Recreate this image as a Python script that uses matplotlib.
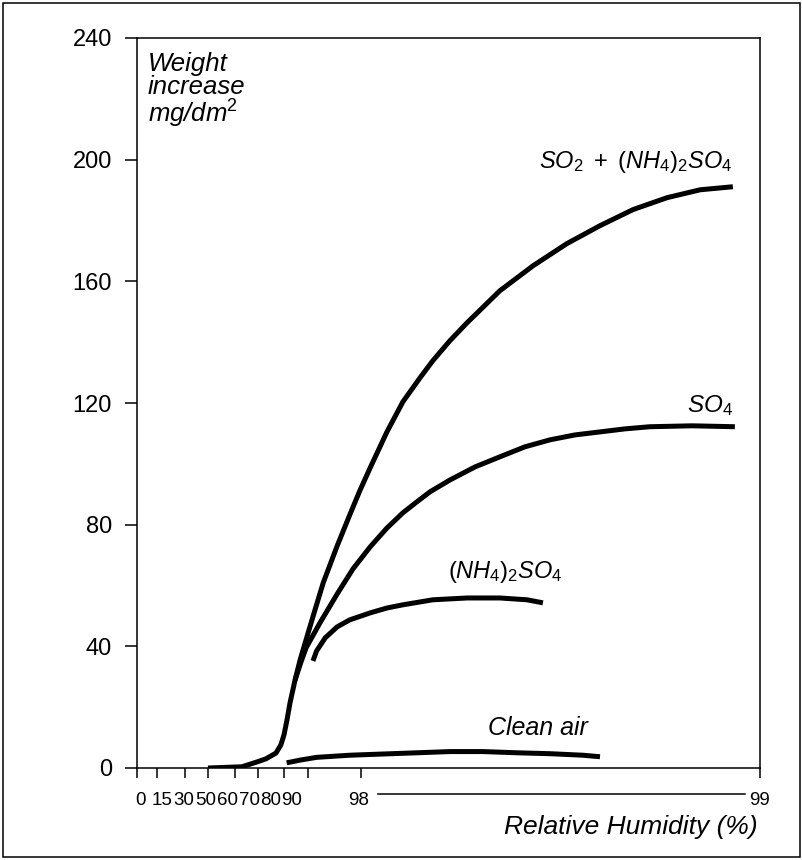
import numpy as np
import matplotlib
matplotlib.use("Agg")
import matplotlib.pyplot as plt
from matplotlib.patches import Rectangle

plt.rcParams["font.family"] = ["Liberation Sans", "DejaVu Sans"]
plt.rcParams["mathtext.fontset"] = "custom"
plt.rcParams["mathtext.rm"] = "Liberation Sans"
plt.rcParams["mathtext.it"] = "Liberation Sans:italic"
plt.rcParams["mathtext.bf"] = "Liberation Sans:bold"

# ---- humidity axis (non-linear, expanded near saturation) ----
RH_TICKS = [0, 15, 30, 50, 60, 70, 80, 90, 98, 99]
RH_TICK_LABELS = ["0", "15", "30", "50", "60", "70", "80", "90", "98", "99"]

# ---- weight-gain curves: relative humidity (%) vs weight increase (mg/dm2) ----
so2_nh4_rh = [50, 63, 69.6, 73, 76.9, 78.8, 80, 81.25, 82.5, 84.6, 86.7, 90.15,
              91.06, 92.3, 94.4, 96.3, 97.81, 98.023, 98.065, 98.105, 98.148,
              98.180, 98.223, 98.266, 98.348, 98.431, 98.516, 98.599, 98.682,
              98.767, 98.850, 98.932]
so2_nh4_w = [0, 0.4, 2.0, 3.0, 4.9, 7.6, 10.9, 15.8, 21.4, 28.9, 35.5, 45.4,
             52.0, 60.9, 73.0, 83.2, 91.1, 98.7, 110.5, 120.4, 128.3,
             133.9, 140.5, 146.4, 156.9, 165.1, 172.4, 178.3, 183.6,
             187.5, 190.1, 191.1]

so4_rh = [84.6, 87.1, 89.2, 91.8, 94.4, 96.8, 98.023, 98.065, 98.105, 98.140,
          98.173, 98.223, 98.286, 98.348, 98.411, 98.474, 98.536, 98.599,
          98.662, 98.724, 98.830, 98.937]
so4_w = [28.9, 34.9, 39.5, 47.7, 57.2, 65.5, 72.7, 78.9, 83.9, 87.5,
         90.8, 94.7, 99.0, 102.3, 105.6, 107.9, 109.5, 110.5,
         111.5, 112.2, 112.5, 112.2]

nh4_rh = [90.75, 91.3, 92.6, 94.4, 96.3, 98.023, 98.065, 98.103, 98.180,
          98.266, 98.348, 98.416, 98.456]
nh4_w = [35.2, 38.5, 42.8, 46.4, 48.7, 51.0, 52.6, 53.6, 55.3,
         55.9, 55.9, 55.3, 54.3]

clean_rh = [81.1, 86.7, 91.3, 96.3, 98.055, 98.140, 98.223, 98.306, 98.391,
            98.474, 98.556, 98.599]
clean_w = [1.7, 2.6, 3.5, 4.2, 4.6, 5.0, 5.4, 5.4, 5.0, 4.7, 4.2, 3.7]

Y_TICKS = [0, 40, 80, 120, 160, 200, 240]

# relative drawing positions of the humidity ticks along the x axis
AXIS_POS = [0, 20, 48, 71, 98, 121, 147, 171, 224, 623]
# small horizontal shifts (pixels) of the packed humidity labels
LABEL_SHIFT = [4, 5, -1, -2, -7, -8.5, -13, -16, -2, 0]


def rh_forward(x):
    return np.interp(x, RH_TICKS, AXIS_POS)


def rh_inverse(p):
    return np.interp(p, AXIS_POS, RH_TICKS)


W, H = 803, 860
fig = plt.figure(figsize=(W / 100, H / 100), dpi=100)
ax = fig.add_axes([137 / W, (H - 768) / H, 623 / W, 730 / H])

ax.set_xscale("function", functions=(rh_forward, rh_inverse))
ax.set_xlim(0, 99)
ax.set_ylim(0, 240)

curve_kw = dict(color="black", lw=3.6, solid_capstyle="butt", solid_joinstyle="round")
ax.plot(so2_nh4_rh, so2_nh4_w, **curve_kw)
ax.plot(so4_rh, so4_w, **curve_kw)
ax.plot(nh4_rh, nh4_w, **curve_kw)
ax.plot(clean_rh, clean_w, **curve_kw)

# axes frame and ticks
for s in ax.spines.values():
    s.set_linewidth(1.1)
ax.set_yticks(Y_TICKS)
ax.set_yticklabels([str(v) for v in Y_TICKS], fontsize=17)
ax.tick_params(axis="y", length=8.6, width=1.1, pad=9.4, direction="out")
ax.set_xticks(RH_TICKS)
ax.set_xticklabels([""] * len(RH_TICKS))
ax.tick_params(axis="x", length=7.2, width=1.1, direction="out")
ax.minorticks_off()

for v, lab, dx in zip(RH_TICKS, RH_TICK_LABELS, LABEL_SHIFT):
    ax.annotate(lab, xy=(v, 0), xycoords=ax.get_xaxis_transform(),
                xytext=(dx, -37), textcoords="offset pixels",
                ha="center", va="baseline", fontsize=13.5,
                annotation_clip=False)

# span bar between the 98 and 99 labels
ax.plot([98.043, 98.962], [-0.0356, -0.0356], transform=ax.get_xaxis_transform(),
        color="black", lw=1.1, clip_on=False)

ax.text(0.9968, -0.0904, "Relative Humidity (%)", transform=ax.transAxes,
        ha="right", va="baseline", fontsize=19, style="italic")

ax.text(0.0177, 0.981, "Weight\nincrease\nmg/dm$^2$", transform=ax.transAxes,
        ha="left", va="top", fontsize=18.5, style="italic", linespacing=0.95)

# curve labels
ax.annotate(r"$\mathit{SO_2\ +\ (NH_4)_2SO_4}$", xy=(so2_nh4_rh[-1], so2_nh4_w[-1]),
            xytext=(0, 19), textcoords="offset pixels", ha="right", va="baseline",
            fontsize=17)
ax.annotate(r"$\mathit{SO_4}$", xy=(so4_rh[-1], so4_w[-1]),
            xytext=(-2, 15), textcoords="offset pixels", ha="right", va="baseline",
            fontsize=17.5)
ax.text(98.361, 62.5, r"$\mathit{(NH_4)_2SO_4}$", ha="center", va="baseline", fontsize=17)
ax.text(98.444, 10.9, "Clean air", ha="center", va="baseline", fontsize=18, style="italic")

# outer border of the figure
fig.patches.append(Rectangle((3 / W, 3 / H), (W - 6) / W, (H - 6) / H,
                             transform=fig.transFigure, fill=False,
                             edgecolor="black", lw=1.1))

fig.savefig("out.png", dpi=100)
